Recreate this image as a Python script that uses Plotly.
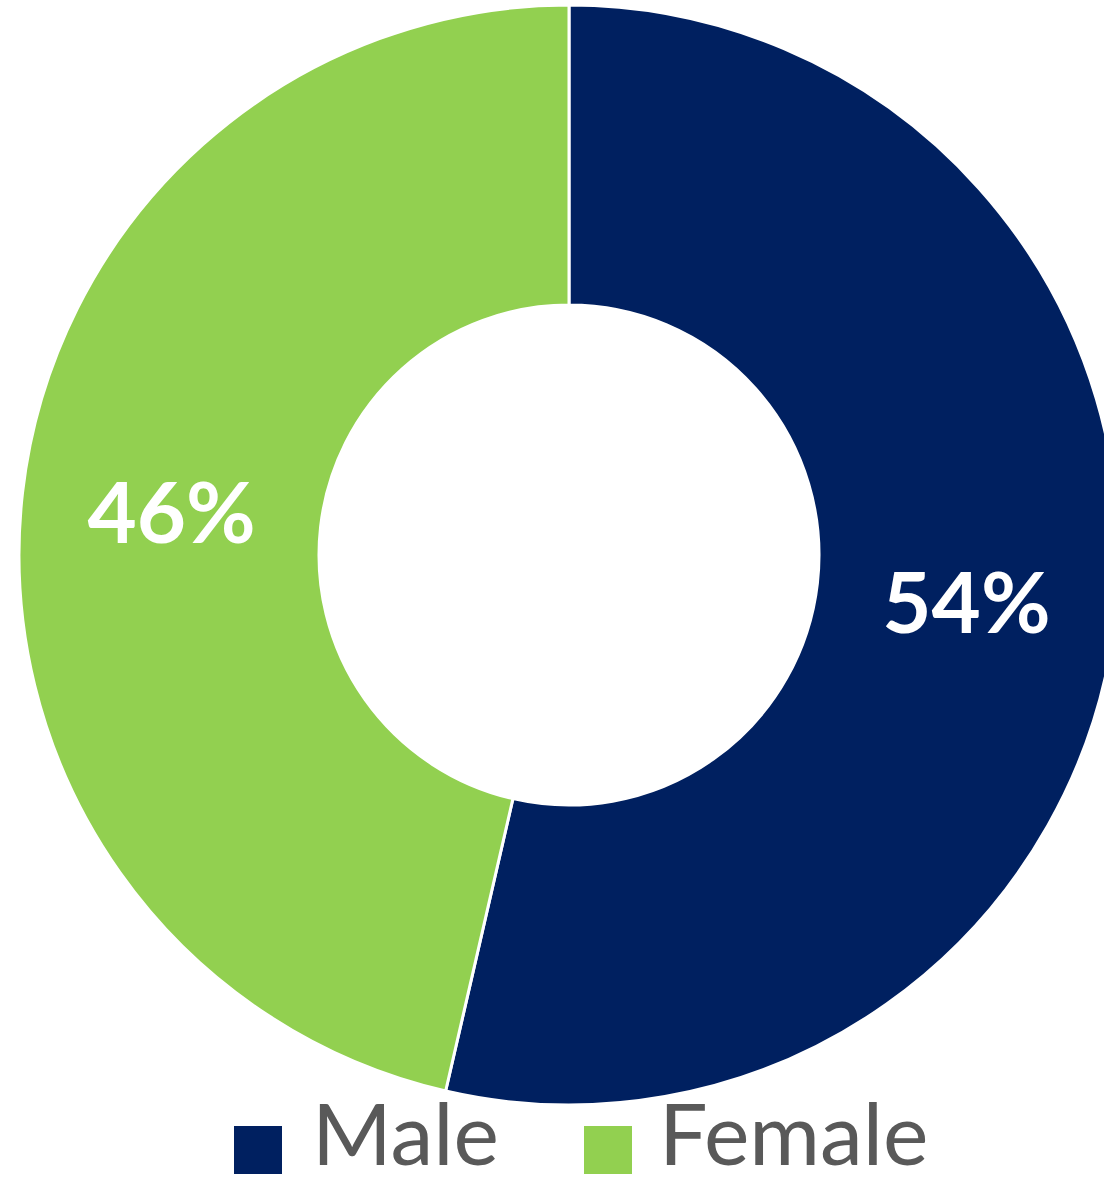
import plotly.graph_objects as go

# ---- data ----
labels = ["Male", "Female"]
values = [53.6, 46.4]
colors = ["#002060", "#92D050"]

# ---- layout constants (pixels) ----
W, H = 1140, 1185
CX, CY, R_OUT, R_IN = 569, 555, 550, 250

fig = go.Figure()
fig.add_trace(go.Pie(
    labels=labels,
    values=values,
    hole=R_IN / R_OUT,
    sort=False,
    direction="clockwise",
    rotation=0,
    marker=dict(colors=colors, line=dict(color="white", width=3)),
    texttemplate="%{percent:.0%}",
    textposition="inside",
    insidetextorientation="horizontal",
    textfont=dict(family="Lato", size=85, color="white", weight="bold"),
    showlegend=False,
    hoverinfo="label+percent",
    domain=dict(x=[(CX - R_OUT) / W, (CX + R_OUT) / W],
                y=[1 - (CY + R_OUT) / H, 1 - (CY - R_OUT) / H]),
))

# ---- custom legend (large squares + text) ----
legend_x = [234, 584]      # square left edges (px)
text_x = [310, 657]        # text left edges (px)
sq_top, sq_size = 1126, 48
shapes, annots = [], []
for i, lab in enumerate(labels):
    shapes.append(dict(type="rect", xref="paper", yref="paper",
                       x0=legend_x[i] / W, x1=(legend_x[i] + sq_size) / W,
                       y0=1 - (sq_top + sq_size) / H, y1=1 - sq_top / H,
                       fillcolor=colors[i], line=dict(width=0)))
    annots.append(dict(text=lab, xref="paper", yref="paper",
                       x=text_x[i] / W, y=0,
                       xanchor="left", yanchor="bottom", showarrow=False,
                       font=dict(family="Lato", size=86, color="#595959")))

fig.update_layout(
    width=W, height=H,
    margin=dict(l=0, r=0, t=0, b=0),
    paper_bgcolor="white",
    plot_bgcolor="white",
    shapes=shapes,
    annotations=annots,
)

fig.write_html("out.html",
               config={"displayModeBar": False},
               post_script="document.body.style.margin='0';document.body.style.overflow='hidden';")
